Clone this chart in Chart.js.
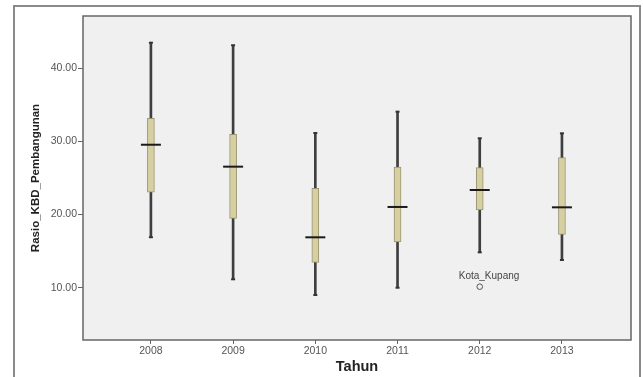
<!DOCTYPE html>
<html>
<head>
<meta charset="utf-8">
<script src="https://cdn.jsdelivr.net/npm/chart.js@4/dist/chart.umd.min.js"></script>
<style>
  html, body { margin: 0; padding: 0; background: #ffffff; }
  #wrap { width: 643px; height: 377px; position: relative; }
</style>
</head>
<body>
<div id="wrap"><canvas id="c" width="643" height="377"></canvas></div>
<script>
// ---- Data ----
const years      = [2008, 2009, 2010, 2011, 2012, 2013];
const whiskerMin = [16.9, 11.15, 9.0, 10.0, 14.84, 13.79];
const q1         = [23.05, 19.49, 13.47, 16.25, 20.62, 17.3];
const medians    = [29.55, 26.55, 16.89, 21.04, 23.36, 20.99];
const q3         = [33.16, 30.98, 23.59, 26.5, 26.41, 27.78];
const whiskerMax = [43.5, 43.15, 31.15, 34.07, 30.43, 31.11];
const outlierYears  = [2012];
const outlierValues = [10.14];
const outlierLabels = ['Kota_Kupang'];
const yTickValues = [10, 20, 30, 40];
const xTitle = 'Tahun';
const yTitle = 'Rasio_KBD_Pembangunan';

const FONT = '"Liberation Sans", Arial, sans-serif';

const medianPts = years.map((x, i) => ({x, y: medians[i]}));
const boxPts = years.map((x, i) => ({x, y: [q1[i], q3[i]]}));
const whiskerPts = years.map((x, i) => ({x, y: [whiskerMin[i], whiskerMax[i]]}));
const capPts = years.flatMap((x, i) => [{x, y: whiskerMin[i]}, {x, y: whiskerMax[i]}]);
const outlierPts = outlierYears.map((x, i) => ({x, y: outlierValues[i]}));

const framePlugin = {
  id: 'frame',
  beforeDraw(chart) {
    const ctx = chart.ctx;
    const a = chart.chartArea;
    ctx.save();
    ctx.fillStyle = '#ffffff';
    ctx.fillRect(0, 0, chart.width, chart.height);
    ctx.strokeStyle = '#8a8a8a';
    ctx.lineWidth = 2;
    ctx.strokeRect(14, 6, 626, 372);
    ctx.fillStyle = '#f0f0f0';
    ctx.fillRect(a.left, a.top, a.right - a.left, a.bottom - a.top);
    ctx.restore();
  },
  afterDraw(chart) {
    const ctx = chart.ctx;
    const a = chart.chartArea;
    ctx.save();
    ctx.strokeStyle = '#666666';
    ctx.lineWidth = 1.5;
    ctx.strokeRect(a.left, a.top, a.right - a.left, a.bottom - a.top);
    const xs = chart.scales.x, ys = chart.scales.y;
    ctx.fillStyle = '#444444';
    ctx.font = '10px ' + FONT;
    ctx.textAlign = 'left';
    ctx.textBaseline = 'alphabetic';
    outlierYears.forEach((yr, i) => {
      const px = xs.getPixelForValue(yr);
      const py = ys.getPixelForValue(outlierValues[i]);
      ctx.fillText(outlierLabels[i], px - 21, py - 8);
    });
    ctx.restore();
  }
};

new Chart(document.getElementById('c'), {
  type: 'bar',
  data: {
    datasets: [
      {
        type: 'scatter', label: 'median', data: medianPts,
        pointStyle: 'line', pointRadius: 10, pointHoverRadius: 10,
        borderColor: '#1a1a1a', borderWidth: 2, order: 0
      },
      {
        type: 'scatter', label: 'outlier', data: outlierPts,
        pointStyle: 'circle', pointRadius: 2.8, backgroundColor: 'rgba(0,0,0,0)',
        borderColor: '#555555', borderWidth: 1, order: 0
      },
      {
        type: 'bar', label: 'box', data: boxPts, grouped: false,
        barThickness: 7, backgroundColor: '#d6cfa2', borderColor: '#9a9470',
        borderWidth: 1, borderSkipped: false, order: 1
      },
      {
        type: 'scatter', label: 'caps', data: capPts,
        pointStyle: 'line', pointRadius: 2, borderColor: '#333333', borderWidth: 2, order: 2
      },
      {
        type: 'bar', label: 'whisker', data: whiskerPts, grouped: false,
        barThickness: 2, backgroundColor: '#3e3e3e', borderWidth: 0, order: 3
      }
    ]
  },
  options: {
    responsive: false,
    animation: false,
    devicePixelRatio: 1,
    layout: { padding: { left: 0, top: 16, right: 11, bottom: 0 } },
    plugins: { legend: { display: false }, tooltip: { enabled: false } },
    scales: {
      x: {
        type: 'linear', min: 2007.174, max: 2013.84, offset: false,
        afterBuildTicks(s) { s.ticks = years.map(v => ({value: v})); },
        afterFit(s) { s.height = 37; },
        grid: { offset: false, drawOnChartArea: false, drawTicks: true, tickLength: 4, color: '#666666', lineWidth: 1 },
        border: { display: false },
        ticks: {
          color: '#555555', font: { family: FONT, size: 10.5 }, padding: 1,
          maxRotation: 0, autoSkip: false,
          callback: v => String(v)
        },
        title: {
          display: true, text: xTitle, color: '#222222',
          font: { family: FONT, size: 14.5, weight: 'bold' },
          padding: { top: 0, bottom: 1 }
        }
      },
      y: {
        type: 'linear', min: 2.85, max: 47.15,
        afterBuildTicks(s) { s.ticks = yTickValues.map(v => ({value: v})); },
        afterFit(s) { s.width = 83; },
        grid: { drawOnChartArea: false, drawTicks: true, tickLength: 5, color: '#666666', lineWidth: 1 },
        border: { display: false },
        ticks: {
          color: '#555555', font: { family: FONT, size: 10.5 }, padding: 1,
          callback: v => Number(v).toFixed(2)
        },
        title: {
          display: true, text: yTitle, color: '#222222',
          font: { family: FONT, size: 11.5, weight: 'bold' },
          padding: { top: 29, bottom: 0 }
        }
      }
    }
  },
  plugins: [framePlugin]
});
</script>
</body>
</html>
